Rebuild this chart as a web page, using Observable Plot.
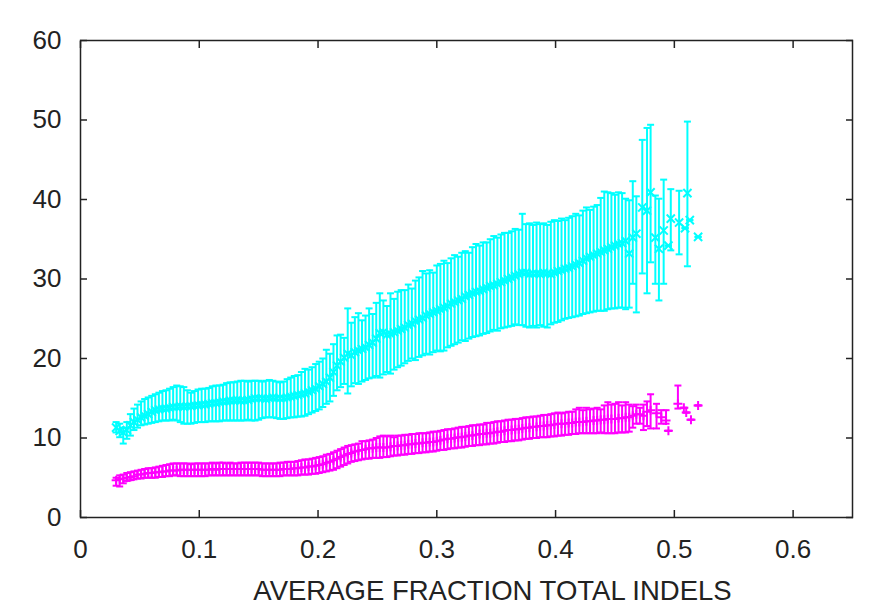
<!DOCTYPE html>
<html><head><meta charset="utf-8">
<script src="https://cdn.jsdelivr.net/npm/d3@7"></script>
<script src="https://cdn.jsdelivr.net/npm/@observablehq/plot@0.6"></script>
<style>body{margin:0;background:#fff;} #chart svg{display:block;}</style>
</head><body><div id="chart"></div>
<script>
const xLabel = "AVERAGE FRACTION TOTAL INDELS";
const xTicks = [0, 0.1, 0.2, 0.3, 0.4, 0.5, 0.6];
const xTickLabels = ["0", "0.1", "0.2", "0.3", "0.4", "0.5", "0.6"];
const yTicks = [0, 10, 20, 30, 40, 50, 60];
const yTickLabels = ["0", "10", "20", "30", "40", "50", "60"];

const gridX = [
0.030,0.033,0.036,0.039,0.042,0.045,0.048,0.051,0.054,0.057,
0.060,0.063,0.066,0.069,0.072,0.075,0.078,0.081,0.084,0.087,
0.090,0.093,0.096,0.099,0.102,0.105,0.108,0.111,0.114,0.117,
0.120,0.123,0.126,0.129,0.132,0.135,0.138,0.141,0.144,0.147,
0.150,0.153,0.156,0.159,0.162,0.165,0.168,0.171,0.174,0.177,
0.180,0.183,0.186,0.189,0.192,0.195,0.198,0.201,0.204,0.207,
0.210,0.213,0.216,0.219,0.222,0.225,0.228,0.231,0.234,0.237,
0.240,0.243,0.246,0.249,0.252,0.255,0.258,0.261,0.264,0.267,
0.270,0.273,0.276,0.279,0.282,0.285,0.288,0.291,0.294,0.297,
0.300,0.303,0.306,0.309,0.312,0.315,0.318,0.321,0.324,0.327,
0.330,0.333,0.336,0.339,0.342,0.345,0.348,0.351,0.354,0.357,
0.360,0.363,0.366,0.369,0.372,0.375,0.378,0.381,0.384,0.387,
0.390,0.393,0.396,0.399,0.402,0.405,0.408,0.411,0.414,0.417,
0.420,0.423,0.426,0.429,0.432,0.435,0.438,0.441,0.444,0.447,
0.450,0.453,0.456,0.459,0.462,0.465,0.468];

const cyanMean = [
11.3,10.9,10.7,11.0,11.6,12.0,12.3,12.6,12.8,13.0,
13.3,13.5,13.6,13.7,13.7,13.8,13.9,13.9,14.0,13.9,
14.0,14.0,14.1,14.1,14.2,14.2,14.3,14.4,14.4,14.5,
14.6,14.6,14.7,14.7,14.8,14.7,14.7,14.8,14.9,15.0,
15.0,15.0,14.9,15.0,15.1,15.0,15.0,15.0,15.1,15.2,
15.3,15.4,15.5,15.6,15.8,16.0,16.2,16.5,16.8,17.1,
17.6,18.3,19.1,19.6,20.1,20.6,20.4,20.8,21.0,21.2,
21.4,21.7,22.0,22.5,23.2,23.3,23.0,23.1,23.3,23.5,
23.7,23.9,24.2,24.4,24.7,24.9,25.1,25.4,25.6,25.8,
26.0,26.2,26.4,26.6,26.9,27.1,27.3,27.5,27.8,28.0,
28.2,28.4,28.5,28.7,28.9,29.1,29.2,29.4,29.6,29.8,
30.0,30.2,30.4,30.6,30.8,30.8,30.6,30.7,30.7,30.6,
30.8,30.7,30.6,30.8,31.0,31.1,31.3,31.4,31.6,31.8,
32.0,32.3,32.6,32.8,33.0,33.2,33.4,33.6,33.8,34.0,
34.2,34.4,34.5,34.8,33.2,35.2,35.7];
const cyanHigh = [
12.0,11.8,11.3,12.0,13.0,13.7,14.2,14.6,14.9,15.1,
15.3,15.5,15.7,15.9,16.0,16.2,16.4,16.6,16.5,16.4,
16.0,15.7,15.9,16.1,16.2,16.2,16.3,16.5,16.6,16.6,
16.7,16.9,17.0,17.0,17.1,17.2,17.2,17.1,17.2,17.2,
17.2,17.1,17.2,17.3,17.2,17.1,17.0,17.1,17.4,17.6,
17.8,17.9,18.3,18.7,18.6,18.9,19.3,19.6,20.0,21.1,
20.6,21.8,22.9,23.0,22.6,26.3,24.5,25.2,25.7,24.8,
25.4,26.3,25.6,27.0,28.2,27.3,26.6,28.2,27.5,28.4,
28.6,28.6,29.3,28.8,29.8,30.2,31.0,30.7,31.1,30.8,
31.7,31.9,32.3,32.0,32.6,33.0,32.8,33.3,33.5,33.3,
34.0,34.4,34.2,34.6,34.6,35.0,35.4,35.2,35.6,35.8,
35.8,36.0,36.3,36.2,38.2,36.9,37.0,36.8,37.1,36.9,
37.0,36.8,37.2,37.4,37.3,37.6,37.4,37.7,37.9,38.2,
38.0,38.6,39.0,38.7,39.1,39.3,40.2,41.0,40.9,40.8,
40.6,40.9,40.8,40.1,39.9,42.3,40.4];
const cyanLow = [
10.7,10.1,9.3,9.9,10.3,11.0,11.3,11.6,11.7,11.8,
11.9,12.0,12.1,12.2,12.2,12.2,12.3,12.2,12.0,11.8,
11.8,11.8,11.9,12.0,12.0,12.0,12.1,12.1,12.1,12.1,
12.2,12.2,12.2,12.2,12.2,12.2,12.2,12.3,12.2,12.2,
12.3,12.5,12.6,12.6,12.6,12.5,12.4,12.4,12.5,12.6,
12.6,12.7,12.7,12.8,13.0,13.2,13.4,13.6,13.9,14.3,
14.6,15.3,16.0,16.4,16.8,15.6,16.5,16.9,16.8,17.1,
17.3,17.5,17.6,17.8,17.6,18.0,18.3,18.1,18.6,18.9,
19.1,19.4,19.7,20.0,19.8,20.2,20.4,20.6,20.5,20.8,
21.0,20.9,21.0,21.4,21.6,21.8,22.0,22.3,22.2,22.5,
22.7,22.8,22.9,23.1,23.2,23.4,23.6,23.5,23.8,23.9,
24.0,24.1,24.3,24.2,24.2,24.0,23.9,24.1,23.9,24.2,
24.0,23.9,24.3,24.5,24.6,24.8,25.0,25.1,25.2,25.3,
25.4,25.6,25.7,25.8,25.9,26.0,26.0,26.0,26.2,26.3,
26.3,26.4,26.4,26.2,26.4,29.4,25.8];

const cyanTailX = [0.473,0.477,0.480,0.484,0.487,0.491,0.495,0.497,0.504,0.509,0.511,0.513,0.520];
const cyanTailMean = [39.0,38.6,40.9,35.2,33.8,36.1,34.2,37.6,37.1,36.4,40.8,37.4,35.3];
const cyanTailLow = [30.7,28.2,32.1,29.4,27.3,29.4,34.2,33.6,33.1,36.4,31.6,37.4,35.3];
const cyanTailHigh = [47.5,49.0,49.4,40.5,40.1,42.5,34.2,41.3,41.1,36.4,49.8,37.4,35.3];

const magentaMean = [
4.7,4.8,4.9,5.0,5.1,5.2,5.4,5.4,5.5,5.6,
5.6,5.7,5.7,5.8,5.8,5.9,5.9,5.9,6.0,6.0,
6.0,6.0,6.0,6.0,6.0,6.0,6.0,6.1,6.0,6.1,
6.1,6.1,6.1,6.1,6.1,6.1,6.1,6.1,6.1,6.1,
6.1,6.0,6.0,6.0,6.0,6.0,6.0,6.1,6.1,6.1,
6.2,6.2,6.3,6.3,6.4,6.4,6.5,6.6,6.7,6.9,
7.0,7.2,7.4,7.6,7.8,8.0,8.1,8.3,8.4,8.5,
8.6,8.7,8.7,8.8,8.8,8.8,8.8,8.9,9.0,9.0,
9.1,9.1,9.2,9.2,9.3,9.3,9.4,9.4,9.5,9.5,
9.6,9.7,9.8,9.9,9.9,10.0,10.1,10.1,10.2,10.3,
10.3,10.4,10.5,10.5,10.6,10.6,10.7,10.8,10.8,10.9,
11.0,11.0,11.1,11.1,11.2,11.3,11.3,11.4,11.4,11.5,
11.5,11.6,11.6,11.7,11.8,11.8,11.8,11.9,11.9,12.0,
12.0,12.0,12.1,12.1,12.2,12.2,12.3,12.3,12.4,12.4,
12.4,12.5,12.5,12.6,12.6,12.8,13.0];
const magentaHigh = [
5.0,5.3,5.4,5.6,5.7,5.8,5.9,6.0,6.1,6.2,
6.2,6.3,6.4,6.5,6.6,6.7,6.8,6.8,6.8,6.8,
6.8,6.7,6.8,6.8,6.8,6.8,6.8,6.9,6.8,6.9,
6.9,6.8,6.9,6.8,6.8,6.9,6.9,6.9,6.9,6.9,
6.9,6.8,6.8,6.8,6.8,6.8,6.9,6.9,7.0,7.0,
7.0,7.1,7.2,7.3,7.3,7.4,7.5,7.6,7.7,7.9,
8.0,8.2,8.4,8.6,8.8,9.0,9.1,9.2,9.3,9.6,
9.6,9.7,9.8,10.0,10.2,10.3,10.2,10.3,10.1,10.3,
10.3,10.4,10.4,10.5,10.5,10.6,10.6,10.6,10.7,10.8,
10.8,10.9,11.0,11.1,11.1,11.2,11.3,11.4,11.4,11.5,
11.6,11.6,11.7,11.7,11.9,11.9,12.0,12.1,12.1,12.2,
12.3,12.3,12.4,12.4,12.5,12.6,12.6,12.7,12.7,12.8,
12.9,12.9,13.0,13.1,13.2,13.1,13.2,13.3,13.3,13.6,
13.8,13.5,13.8,13.6,13.7,13.8,13.6,14.1,14.5,14.2,
14.3,14.5,14.1,14.5,14.2,14.0,14.2];
const magentaLow = [
4.0,3.9,4.3,4.6,4.7,4.8,4.9,4.9,5.0,5.0,
5.0,5.0,5.1,5.1,5.2,5.2,5.3,5.3,5.2,5.2,
5.2,5.2,5.2,5.2,5.2,5.2,5.3,5.3,5.3,5.3,
5.3,5.3,5.3,5.3,5.3,5.3,5.3,5.3,5.3,5.3,
5.3,5.2,5.2,5.2,5.2,5.2,5.2,5.3,5.3,5.3,
5.3,5.3,5.4,5.4,5.4,5.5,5.5,5.6,5.7,5.8,
5.9,6.0,6.2,6.4,6.6,6.8,7.0,7.1,7.2,7.3,
7.4,7.4,7.5,7.5,7.5,7.6,7.6,7.7,7.8,7.8,
7.9,7.9,8.0,8.0,8.1,8.1,8.2,8.2,8.3,8.3,
8.4,8.5,8.5,8.6,8.7,8.7,8.8,8.8,8.9,9.0,
9.0,9.1,9.1,9.2,9.2,9.3,9.3,9.4,9.5,9.5,
9.6,9.6,9.7,9.7,9.8,9.9,9.9,10.0,10.0,10.1,
10.1,10.1,10.2,10.2,10.3,10.3,10.4,10.4,10.5,10.5,
10.6,10.6,10.6,10.6,10.6,10.6,10.7,10.6,10.6,10.6,
10.6,10.7,10.7,10.7,10.8,11.3,11.8];

const magentaTailX = [0.471,0.474,0.477,0.480,0.485,0.489,0.493,0.495,0.503,0.508,0.510,0.514,0.520];
const magentaTailMean = [13.0,12.8,13.3,13.5,13.1,12.6,12.2,10.9,14.3,13.8,13.2,12.3,14.1];
const magentaTailLow = [11.8,11.0,11.5,11.2,11.2,11.8,11.8,10.9,13.7,13.8,13.2,12.3,14.1];
const magentaTailHigh = [13.8,14.2,14.6,15.5,14.3,13.5,13.5,10.9,16.6,13.8,13.2,12.3,14.1];

function rows(xs, m, lo, hi) {
  return xs.map((x, i) => ({x, y: m[i], lo: lo[i], hi: hi[i]}));
}
const cyan = rows([...gridX, ...cyanTailX], [...cyanMean, ...cyanTailMean],
                  [...cyanLow, ...cyanTailLow], [...cyanHigh, ...cyanTailHigh]);
const magenta = rows([...gridX, ...magentaTailX], [...magentaMean, ...magentaTailMean],
                  [...magentaLow, ...magentaTailLow], [...magentaHigh, ...magentaTailHigh]);

const cap = {draw(ctx, size) { const r = Math.sqrt(size / Math.PI); ctx.moveTo(-r, 0); ctx.lineTo(r, 0); }};

function series(data, color, symbol, r) {
  return [
    Plot.ruleX(data, {x: "x", y1: "lo", y2: "hi", stroke: color, strokeWidth: 2}),
    Plot.dot(data, {x: "x", y: "lo", symbol: cap, r: 3.5, stroke: color, fill: "none", strokeWidth: 2}),
    Plot.dot(data, {x: "x", y: "hi", symbol: cap, r: 3.5, stroke: color, fill: "none", strokeWidth: 2}),
    Plot.dot(data, {x: "x", y: "y", symbol, r, stroke: color, fill: "none", strokeWidth: 2})
  ];
}

const chart = Plot.plot({
  width: 873, height: 612,
  marginLeft: 80, marginRight: 21, marginTop: 40, marginBottom: 95,
  style: {fontFamily: "'Liberation Sans', Arial, sans-serif", fontSize: "26px", color: "#222", background: "#fff"},
  x: {domain: [0, 0.65]},
  y: {domain: [0, 60]},
  marks: [
    ...series(cyan, "#00ffff", "times", 3.8),
    ...series(magenta, "#ff00ff", "plus", 3.0),
    Plot.axisX({anchor: "bottom", ticks: xTicks, tickSize: -7, tickPadding: 29,
      tickFormat: d => xTickLabels[xTicks.indexOf(d)], label: null, fontSize: 26, strokeWidth: 1.5}),
    Plot.axisX({anchor: "top", ticks: xTicks, tickSize: -7, tickFormat: () => "", label: null, strokeWidth: 1.5}),
    Plot.axisY({anchor: "left", ticks: yTicks, tickSize: -7, tickPadding: 26,
      tickFormat: d => yTickLabels[yTicks.indexOf(d)], label: null, fontSize: 26, strokeWidth: 1.5}),
    Plot.axisY({anchor: "right", ticks: yTicks, tickSize: -7, tickFormat: () => "", label: null, strokeWidth: 1.5}),
    Plot.frame({stroke: "#222", strokeWidth: 1.5}),
    Plot.text([xLabel], {frameAnchor: "bottom", dx: 26, dy: 63, lineAnchor: "top", fontSize: 27.5, fill: "#222"})
  ]
});
document.getElementById("chart").appendChild(chart);
</script>
</body></html>
